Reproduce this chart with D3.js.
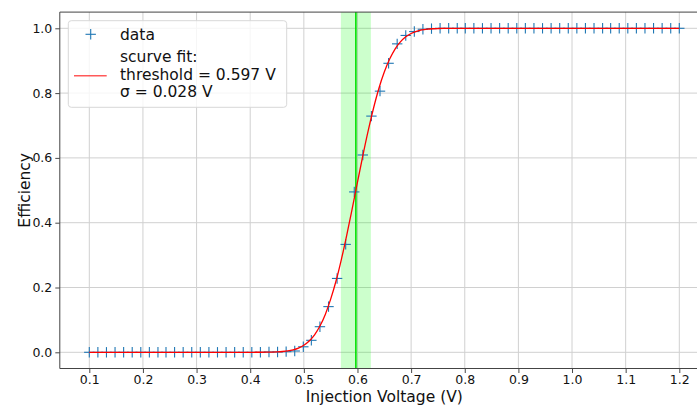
<!DOCTYPE html>
<html>
<head>
<meta charset="utf-8">
<script src="https://cdn.jsdelivr.net/npm/d3@7"></script>
<style>
html,body{margin:0;padding:0;background:#fff;}
svg{display:block;font-family:"DejaVu Sans",sans-serif;}
</style>
</head>
<body>
<svg id="chart" width="697" height="405"></svg>
<script>
// ---- data ----
const injectionV = [0.100,0.116,0.132,0.148,0.164,0.180,0.196,0.212,0.228,0.243,0.259,0.275,0.291,0.307,0.323,0.339,0.355,0.371,0.387,0.403,
  0.419,0.435,0.451,0.467,0.483,0.499,0.514,0.530,0.546,0.562,0.578,0.594,0.610,0.626,0.642,0.658,0.674,0.690,0.706,0.722,
  0.738,0.754,0.770,0.786,0.801,0.817,0.833,0.849,0.865,0.881,0.897,0.913,0.929,0.945,0.961,0.977,0.993,1.009,1.025,1.041,
  1.057,1.072,1.088,1.104,1.120,1.136,1.152,1.168,1.184,1.200];
const efficiency = [0,0,0,0,0,0,0,0,0,0,0,0,0,0,0,0,0,0,0,0,
  0,0.001,0.001,0.002,0.004,0.017,0.037,0.079,0.141,0.228,0.333,0.495,0.609,0.729,0.806,0.892,0.952,0.978,0.990,0.997,
  0.999,1,1,1,1,1,1,1,1,1,1,1,1,1,1,1,1,1,1,1,
  1,1,1,1,1,1,1,1,1,1];
// fitted s-curve
const fitV = [0.10,0.40,0.41,0.42,0.43,0.44,0.45,0.46,0.47,0.48,0.49,0.50,0.51,0.52,0.53,0.54,0.55,0.56,0.57,0.58,0.59,
  0.60,0.61,0.62,0.63,0.64,0.65,0.66,0.67,0.68,0.69,0.70,0.71,0.72,0.73,0.74,0.75,0.76,1.20];
const fitEff = [0,0,0.0001,0.0002,0.0004,0.0007,0.0013,0.0024,0.0043,0.0076,0.013,0.022,0.035,0.054,0.081,0.117,0.164,0.220,0.287,0.362,0.442,
  0.525,0.607,0.684,0.754,0.815,0.865,0.905,0.936,0.958,0.974,0.984,0.9907,0.9948,0.9972,0.9986,0.9993,0.9997,1];
const threshold = 0.597;
const sigma = 0.028;
const xTicks = [0.1,0.2,0.3,0.4,0.5,0.6,0.7,0.8,0.9,1.0,1.1,1.2];
const yTicks = [0.0,0.2,0.4,0.6,0.8,1.0];
const legendLabels = ["data","scurve fit:","threshold = 0.597 V","σ = 0.028 V"];

// ---- chart ----
const svg = d3.select("#chart");
const x = d3.scaleLinear().domain([0.045,1.255]).range([59.8,708.8]);
const y = d3.scaleLinear().domain([-0.05,1.05]).range([368.5,12.1]);
const L = 59.8, R = 708.8, T = 12.1, B = 368.5;

// grid
const g = svg.append("g");
g.selectAll(".gx").data(xTicks).join("line")
  .attr("x1",d=>x(d)).attr("x2",d=>x(d)).attr("y1",T).attr("y2",B)
  .attr("stroke","#d0d0d0").attr("stroke-width",1);
g.selectAll(".gy").data(yTicks).join("line")
  .attr("x1",L).attr("x2",R).attr("y1",d=>y(d)).attr("y2",d=>y(d))
  .attr("stroke","#d0d0d0").attr("stroke-width",1);

// sigma band and threshold line
svg.append("rect")
  .attr("x",x(threshold-sigma)).attr("width",x(threshold+sigma)-x(threshold-sigma))
  .attr("y",T).attr("height",B-T)
  .attr("fill","#00ff00").attr("fill-opacity",0.2);
svg.append("line")
  .attr("x1",x(threshold)).attr("x2",x(threshold)).attr("y1",T).attr("y2",B)
  .attr("stroke","#00e000").attr("stroke-width",1.6);

// data markers
const ms = 5.2;
const pts = svg.append("g").attr("stroke","#1f77b4").attr("stroke-width",1.1);
injectionV.forEach((v,i)=>{
  const px = x(v), py = y(efficiency[i]);
  pts.append("line").attr("x1",px-ms).attr("x2",px+ms).attr("y1",py).attr("y2",py);
  pts.append("line").attr("x1",px).attr("x2",px).attr("y1",py-ms).attr("y2",py+ms);
});

// fit curve
const fitData = fitV.map((v,i)=>[v,fitEff[i]]);
svg.append("path").datum(fitData)
  .attr("d", d3.line().x(d=>x(d[0])).y(d=>y(d[1])).curve(d3.curveMonotoneX))
  .attr("fill","none").attr("stroke","#ff0000").attr("stroke-width",1.3);

// axes
const xAxis = svg.append("g").attr("transform",`translate(0,${B})`)
  .call(d3.axisBottom(x).tickValues(xTicks).tickFormat(d3.format(".1f")).tickSize(4.5).tickPadding(2.5));
const yAxis = svg.append("g").attr("transform",`translate(${L},0)`)
  .call(d3.axisLeft(y).tickValues(yTicks).tickFormat(d3.format(".1f")).tickSize(4.5).tickPadding(3));
[xAxis,yAxis].forEach(a=>{
  a.select(".domain").remove();
  a.selectAll(".tick line").attr("stroke","#333").attr("stroke-width",0.9);
  a.selectAll(".tick text").attr("font-size",12.5).attr("fill","#111").attr("font-family","DejaVu Sans");
});
// spines
svg.append("line").attr("x1",L).attr("x2",L).attr("y1",T).attr("y2",B).attr("stroke","#444").attr("stroke-width",1);
svg.append("line").attr("x1",L).attr("x2",R).attr("y1",B).attr("y2",B).attr("stroke","#444").attr("stroke-width",1);
svg.append("line").attr("x1",L).attr("x2",R).attr("y1",T).attr("y2",T).attr("stroke","#444").attr("stroke-width",1);

// axis labels
svg.append("text").attr("x",(x(0.045)+x(1.255))/2).attr("y",402)
  .attr("text-anchor","middle").attr("font-size",15.5).attr("fill","#111").text("Injection Voltage (V)");
svg.append("text").attr("transform",`translate(30,${(T+B)/2}) rotate(-90)`)
  .attr("text-anchor","middle").attr("font-size",15.5).attr("fill","#111").text("Efficiency");

// legend
const lg = svg.append("g");
lg.append("rect").attr("x",68.3).attr("y",20.7).attr("width",218.4).attr("height",86.6)
  .attr("rx",3).attr("fill","#fff").attr("fill-opacity",0.8).attr("stroke","#d8d8d8").attr("stroke-width",1);
lg.append("line").attr("x1",90.7-ms).attr("x2",90.7+ms).attr("y1",34.3).attr("y2",34.3).attr("stroke","#1f77b4").attr("stroke-width",1.1);
lg.append("line").attr("x1",90.7).attr("x2",90.7).attr("y1",34.3-ms).attr("y2",34.3+ms).attr("stroke","#1f77b4").attr("stroke-width",1.1);
lg.append("line").attr("x1",74).attr("x2",106.7).attr("y1",75.7).attr("y2",75.7).attr("stroke","#ff0000").attr("stroke-opacity",0.65).attr("stroke-width",1.5);
const baselines = [39.5,62,79.5,97];
legendLabels.forEach((t,i)=>{
  lg.append("text").attr("x",120).attr("y",baselines[i]).attr("font-size",15.5).attr("fill","#111").text(t);
});
</script>
</body>
</html>
